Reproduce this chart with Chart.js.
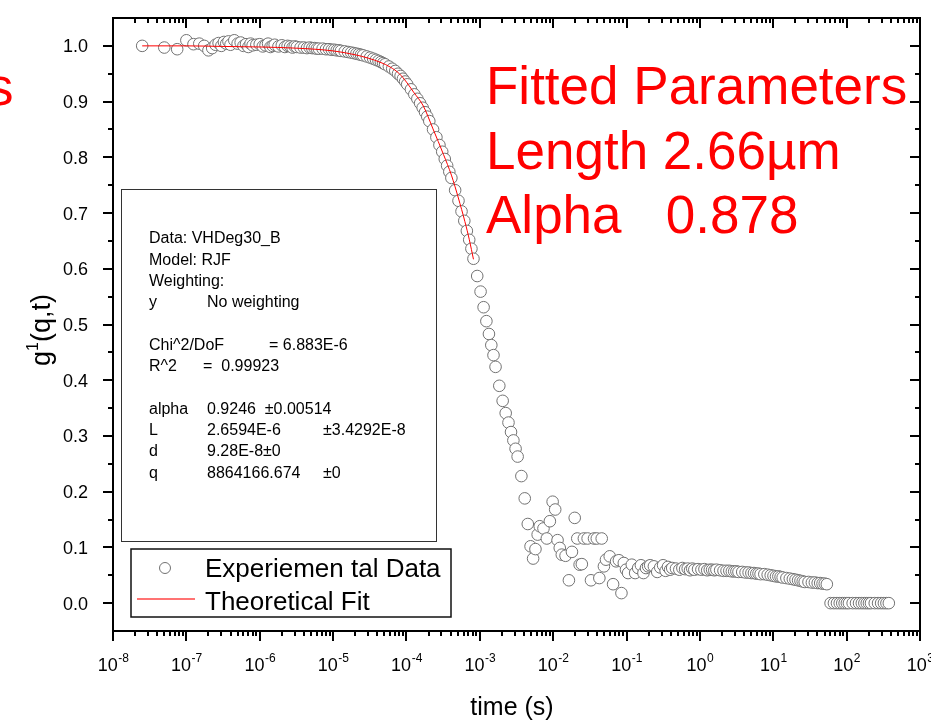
<!DOCTYPE html>
<html>
<head>
<meta charset="utf-8">
<script src="https://cdn.jsdelivr.net/npm/chart.js@4.4.1/dist/chart.umd.min.js"></script>
<style>
  html,body{margin:0;padding:0;background:#fff;}
  #wrap{position:relative;width:931px;height:723px;overflow:hidden;}
</style>
</head>
<body>
<div id="wrap"><canvas id="chart" width="931" height="723"></canvas></div>
<script>
// ── DATA ────────────────────────────────────────────────
const timeS = [
  2.5e-8,5e-8,7.5e-8,1e-7,1.25e-7,1.5e-7,1.75e-7,2e-7,2.25e-7,2.5e-7,2.75e-7,3e-7,3.25e-7,3.5e-7,3.75e-7,4e-7,
  4.5e-7,5e-7,5.5e-7,6e-7,6.5e-7,7e-7,7.5e-7,8e-7,
  9e-7,1e-6,1.1e-6,1.2e-6,1.3e-6,1.4e-6,1.5e-6,1.6e-6,
  1.8e-6,2e-6,2.2e-6,2.4e-6,2.6e-6,2.8e-6,3e-6,3.2e-6,
  3.6e-6,4e-6,4.4e-6,4.8e-6,5.2e-6,5.6e-6,6e-6,6.4e-6,
  7.2e-6,8e-6,8.8e-6,9.6e-6,1.04e-5,1.12e-5,1.2e-5,1.28e-5,
  1.44e-5,1.6e-5,1.76e-5,1.92e-5,2.08e-5,2.24e-5,2.4e-5,2.56e-5,
  2.88e-5,3.2e-5,3.52e-5,3.84e-5,4.16e-5,4.48e-5,4.8e-5,5.12e-5,
  5.76e-5,6.4e-5,7.04e-5,7.68e-5,8.32e-5,8.96e-5,9.6e-5,1.024e-4,
  1.152e-4,1.28e-4,1.408e-4,1.536e-4,1.664e-4,1.792e-4,1.92e-4,2.048e-4,
  2.304e-4,2.56e-4,2.816e-4,3.072e-4,3.328e-4,3.584e-4,3.84e-4,4.096e-4,
  4.608e-4,5.12e-4,5.632e-4,6.144e-4,6.656e-4,7.168e-4,7.68e-4,8.192e-4,
  9.216e-4,1.024e-3,1.126e-3,1.229e-3,1.331e-3,1.434e-3,1.536e-3,1.638e-3,
  1.843e-3,2.048e-3,2.253e-3,2.458e-3,2.662e-3,2.867e-3,3.072e-3,3.277e-3,
  3.686e-3,4.096e-3,4.506e-3,4.915e-3,5.325e-3,5.734e-3,6.144e-3,6.554e-3,
  7.373e-3,8.192e-3,9.011e-3,9.830e-3,1.065e-2,1.147e-2,1.229e-2,1.311e-2,
  1.475e-2,1.638e-2,1.802e-2,1.966e-2,2.130e-2,2.294e-2,2.458e-2,2.621e-2,
  2.949e-2,3.277e-2,3.604e-2,3.932e-2,4.260e-2,4.588e-2,4.915e-2,5.243e-2,
  5.898e-2,6.554e-2,7.209e-2,7.864e-2,8.520e-2,9.175e-2,9.830e-2,0.1049,
  0.118,0.131,0.144,0.157,0.170,0.184,0.197,0.210,
  0.236,0.262,0.288,0.315,0.341,0.367,0.393,0.419,
  0.472,0.524,0.577,0.629,0.682,0.734,0.786,0.839,
  0.944,1.049,1.153,1.258,1.363,1.468,1.573,1.678,
  1.887,2.097,2.307,2.517,2.726,2.936,3.146,3.355,
  3.775,4.194,4.613,5.033,5.453,5.872,6.291,6.711,
  7.55,8.39,9.23,10.07,10.9,11.74,12.58,13.42,
  15.1,16.8,18.5,20.1,21.8,23.5,25.2,26.8,
  30.2,33.6,36.9,40.3,43.6,47.0,50.3,53.7,
  60.4,67.1,73.8,80.5,87.2,93.9,100.7,107.4,
  120.8,134.2,147.6,161.1,174.5,187.9,201.3,214.7,
  241.6,268.4,295.3,322.1,348.9,375.8
];
const g1Data = [
  1.000,0.997,0.994,1.010,1.003,1.004,1.000,0.992,0.996,1.002,1.005,1.000,1.007,1.004,1.008,1.002,
  1.010,1.004,1.006,1.000,1.003,0.998,1.004,1.001,
  1.002,1.003,0.999,1.001,1.004,0.998,1.000,1.002,
  0.999,1.001,0.998,1.000,0.999,0.997,0.999,0.998,
  0.997,0.997,0.996,0.997,0.996,0.996,0.995,0.995,
  0.995,0.994,0.994,0.993,0.993,0.992,0.992,0.991,
  0.990,0.989,0.988,0.987,0.986,0.985,0.984,0.983,
  0.981,0.979,0.977,0.975,0.973,0.971,0.969,0.967,
  0.963,0.959,0.955,0.950,0.946,0.941,0.936,0.931,
  0.922,0.913,0.905,0.897,0.889,0.881,0.873,0.865,
  0.850,0.836,0.822,0.810,0.797,0.785,0.774,0.763,
  0.741,0.722,0.703,0.686,0.668,0.652,0.636,0.618,
  0.587,0.559,0.531,0.506,0.483,0.463,0.445,0.424,
  0.390,0.363,0.341,0.324,0.307,0.292,0.277,0.263,
  0.228,0.188,0.142,0.102,0.080,0.097,0.123,0.138,
  0.134,0.116,0.147,0.182,0.168,0.113,0.099,0.087,
  0.085,0.041,0.092,0.153,0.116,0.069,0.070,0.116,
  0.116,0.041,0.116,0.116,0.045,0.116,0.066,0.078,
  0.084,0.034,0.075,0.077,0.018,0.072,0.060,0.054,
  0.069,0.054,0.063,0.068,0.054,0.063,0.066,0.068,
  0.066,0.056,0.064,0.068,0.058,0.065,0.060,0.063,
  0.062,0.060,0.063,0.061,0.062,0.059,0.062,0.060,
  0.061,0.060,0.061,0.059,0.060,0.060,0.059,0.060,
  0.059,0.058,0.058,0.058,0.057,0.057,0.057,0.056,
  0.056,0.055,0.055,0.054,0.054,0.053,0.053,0.052,
  0.052,0.051,0.050,0.049,0.048,0.048,0.047,0.046,
  0.045,0.044,0.043,0.042,0.041,0.040,0.039,0.038,
  0.038,0.037,0.037,0.036,0.036,0.035,0.035,0.034,
  0,0,0,0,0,0,0,0,
  0,0,0,0,0,0,0,0,
  0,0,0,0,0,0
];
const fitTime = [2.5e-8,1e-7,3e-7,1e-6,3e-6,1e-5,2e-5,3e-5,4.5e-5,6e-5,8e-5,1e-4,1.25e-4,1.7e-4,2.3e-4,3.2e-4,4.1e-4,5.1e-4,6.25e-4,7.2e-4,8.19e-4];
const fitG    = [1.000,1.000,0.999,0.998,0.996,0.991,0.984,0.978,0.970,0.962,0.950,0.935,0.917,0.892,0.851,0.805,0.768,0.727,0.685,0.652,0.617];

const yTicks      = [0,0.1,0.2,0.3,0.4,0.5,0.6,0.7,0.8,0.9,1.0];
const yTickLabels = ['0.0','0.1','0.2','0.3','0.4','0.5','0.6','0.7','0.8','0.9','1.0'];
const xDecades    = [-8,-7,-6,-5,-4,-3,-2,-1,0,1,2,3];

const seriesNames = ['Experiemen tal Data','Theoretical Fit'];
const reportLines = [
  ['Data: VHDeg30_B'],
  ['Model: RJF'],
  ['Weighting:'],
  ['y','No weighting'],
  [],
  ['Chi^2/DoF','= 6.883E-6'],
  ['R^2','=  0.99923'],
  [],
  ['alpha','0.9246  ±0.00514'],
  ['L','2.6594E-6','±3.4292E-8'],
  ['d','9.28E-8±0'],
  ['q','8864166.674','±0']
];
const noteLines = ['Fitted Parameters','Length 2.66µm','Alpha   0.878'];

// ── STYLE ───────────────────────────────────────────────
const FONT = '"Liberation Sans", Arial, Helvetica, sans-serif';
const reportCols = [[149],[149],[149],[149,207],[],[149,269],[149,203],[],[149,207],[149,207,323],[149,207],[149,207,323]];

function line(ctx,x1,y1,x2,y2){ ctx.beginPath(); ctx.moveTo(x1,y1); ctx.lineTo(x2,y2); ctx.stroke(); }

// ── FRAME, TICKS, LABELS ────────────────────────────────
const originFrame = {
  id:'originFrame',
  afterDatasetsDraw(chart){
    const {ctx, chartArea:a, scales:{x,y}} = chart;
    ctx.save();
    ctx.strokeStyle = '#000';
    ctx.lineWidth = 2;
    ctx.strokeRect(a.left, a.top, a.right-a.left, a.bottom-a.top);

    // y ticks (left outward, right inward)
    yTicks.forEach(v=>{
      const py = Math.round(y.getPixelForValue(v));
      line(ctx, a.left-10, py, a.left, py);
      line(ctx, a.right, py, a.right-10, py);
      const pm = Math.round(y.getPixelForValue(v+0.05));
      if(v < 1){
        line(ctx, a.left-5, pm, a.left, pm);
        line(ctx, a.right, pm, a.right-5, pm);
      }
    });
    // x ticks (bottom outward, top inward)
    xDecades.forEach(d=>{
      const px = Math.round(x.getPixelForValue(Math.pow(10,d)));
      line(ctx, px, a.bottom, px, a.bottom+10);
      line(ctx, px, a.top, px, a.top+10);
      if(d < 3){
        for(let k=2;k<=9;k++){
          const pm = Math.round(x.getPixelForValue(k*Math.pow(10,d)));
          line(ctx, pm, a.bottom, pm, a.bottom+5);
          line(ctx, pm, a.top, pm, a.top+5);
        }
      }
    });

    // tick labels
    ctx.fillStyle = '#000';
    ctx.font = '18px '+FONT;
    ctx.textAlign = 'right';
    ctx.textBaseline = 'alphabetic';
    yTicks.forEach((v,i)=>{
      ctx.fillText(yTickLabels[i], a.left-25, y.getPixelForValue(v)+6.5);
    });
    ctx.textAlign = 'left';
    xDecades.forEach(d=>{
      const px = x.getPixelForValue(Math.pow(10,d));
      ctx.font = '18px '+FONT;
      const bw = ctx.measureText('10').width;
      ctx.font = '12px '+FONT;
      const ew = ctx.measureText(String(d)).width;
      const left = px - (bw+ew)/2;
      ctx.font = '18px '+FONT;
      ctx.fillText('10', left, 671);
      ctx.font = '12px '+FONT;
      ctx.fillText(String(d), left+bw+0.5, 662);
    });

    // axis titles
    ctx.font = '25px '+FONT;
    ctx.textAlign = 'center';
    ctx.fillText('time (s)', 512, 715);

    ctx.save();
    ctx.translate(50, 330);
    ctx.rotate(-Math.PI/2);
    ctx.textAlign = 'left';
    ctx.font = '27px '+FONT;
    const wG = ctx.measureText('g').width, wR = ctx.measureText('(q,t)').width;
    ctx.font = '16px '+FONT;
    const wS = ctx.measureText('1').width;
    const sx = -(wG+wS+wR)/2;
    ctx.font = '27px '+FONT;
    ctx.fillText('g', sx, 0);
    ctx.fillText('(q,t)', sx+wG+wS, 0);
    ctx.font = '16px '+FONT;
    ctx.fillText('1', sx+wG, -12);
    ctx.restore();
    ctx.restore();
  },
  afterDraw(chart){
    const {ctx} = chart;
    const ds = chart.data.datasets;
    ctx.save();

    // fit report box
    ctx.strokeStyle = '#333';
    ctx.lineWidth = 1;
    ctx.strokeRect(121.5, 189.5, 315, 352);
    ctx.fillStyle = '#000';
    ctx.font = '16px '+FONT;
    ctx.textAlign = 'left';
    reportLines.forEach((cols,i)=>{
      const base = 243.3 + i*21.3;
      cols.forEach((t,j)=> ctx.fillText(t, reportCols[i][j], base));
    });

    // legend
    ctx.lineWidth = 1.5;
    ctx.strokeStyle = '#111';
    ctx.fillStyle = '#fff';
    ctx.fillRect(131, 549, 320, 68);
    ctx.strokeRect(131, 549, 320, 68);
    ctx.beginPath();
    ctx.arc(165, 568, 5.5, 0, Math.PI*2);
    ctx.fillStyle = '#fff';
    ctx.fill();
    ctx.lineWidth = 1;
    ctx.strokeStyle = ds[1].pointBorderColor;
    ctx.stroke();
    ctx.strokeStyle = 'rgba(255,0,0,0.55)';
    ctx.lineWidth = 2;
    line(ctx, 137, 599, 195, 599);
    ctx.fillStyle = '#000';
    ctx.font = '26px '+FONT;
    ctx.fillText(seriesNames[0], 205, 577);
    ctx.fillText(seriesNames[1], 205, 610);

    // red annotation
    ctx.fillStyle = '#ff0000';
    ctx.font = '53px '+FONT;
    ctx.fillText('s', -13, 105);
    noteLines.forEach((t,i)=> ctx.fillText(t, 486, 104 + i*64.5));
    ctx.restore();
  }
};

// ── CHART ───────────────────────────────────────────────
new Chart(document.getElementById('chart'), {
  type:'scatter',
  data:{
    datasets:[
      {
        label: seriesNames[1],
        data: fitTime.map((t,i)=>({x:t, y:fitG[i]})),
        showLine: true,
        borderColor: '#ff0000',
        borderWidth: 1,
        pointRadius: 0,
        cubicInterpolationMode: 'monotone',
        order: 0
      },
      {
        label: seriesNames[0],
        data: timeS.map((t,i)=>({x:t, y:g1Data[i]})),
        showLine: false,
        pointRadius: 5.8,
        pointBorderWidth: 1,
        pointBorderColor: '#727272',
        pointBackgroundColor: '#ffffff',
        order: 1
      }
    ]
  },
  options:{
    responsive:false,
    animation:false,
    devicePixelRatio:1,
    layout:{ padding:{ left:113, right:11, top:18, bottom:92 } },
    plugins:{ legend:{ display:false }, tooltip:{ enabled:false } },
    scales:{
      x:{ type:'logarithmic', min:1e-8, max:1e3, display:false },
      y:{ type:'linear', min:-0.05, max:1.05, display:false }
    }
  },
  plugins:[originFrame]
});
</script>
</body>
</html>
